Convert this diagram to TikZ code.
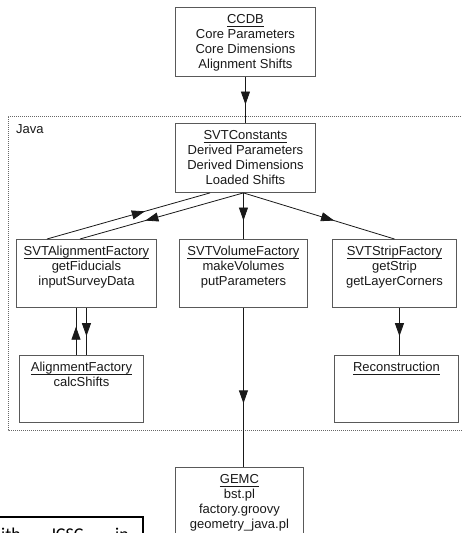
\documentclass[tikz,border=0pt]{standalone}
\usepackage{fontspec}
\setmainfont{Liberation Sans}
\newfontfamily\bleedfont{Carlito}
\usetikzlibrary{arrows.meta,decorations.markings,calc}
\newsavebox{\myulbox}
\newcommand{\myul}[1]{\leavevmode\sbox{\myulbox}{#1}\rlap{\rule[-2.2pt]{\wd\myulbox}{0.6pt}}\usebox{\myulbox}}
\newcommand{\boxtxt}[3]{\parbox[c][#2pt][t]{#1pt}{\centering\fontsize{13}{15}\selectfont\rule{0pt}{16.5pt}#3}}
\begin{document}
\begin{tikzpicture}[x=1pt,y=-1pt,
  bx/.style={draw=black!65, line width=0.9pt, inner sep=0pt, anchor=north west, fill=white, text=black!90},
  conn/.style={draw=black!90, line width=0.8pt},
  midarrow/.style={conn, postaction={decorate}, decoration={markings, mark=at position 0.6 with {\arrow{Triangle[length=13pt,width=9pt]}}}},
  javaline/.style={draw=black!60, line width=0.7pt, dash pattern=on 1pt off 1pt}
]
\useasboundingbox (0,0) rectangle (462,533);
\clip (0,0) rectangle (462,533);
\fill[white] (0,0) rectangle (462,533);

% Java group
\draw[javaline] (475,116) -- (8,116) -- (8,430) -- (475,430);
\node[anchor=west, inner sep=0pt, text=black!90, font=\fontsize{13}{15}\selectfont] (java) at (16,129) {Java};

% boxes
\node[bx] (ccdb) at (175,7) {\boxtxt{140}{69}{\myul{CCDB}\\Core Parameters\\Core Dimensions\\Alignment Shifts}};
\node[bx] (svtc) at (175,123) {\boxtxt{140}{69}{\myul{SVTConstants}\\Derived Parameters\\Derived Dimensions\\Loaded Shifts}};
\node[bx] (saf) at (16,239) {\boxtxt{140}{68}{\myul{SVTAlignmentFactory}\\getFiducials\\inputSurveyData}};
\node[bx] (svf) at (179,239) {\boxtxt{128}{68}{\myul{SVTVolumeFactory}\\makeVolumes\\putParameters}};
\node[bx] (ssf) at (332,239) {\boxtxt{124}{68}{\myul{SVTStripFactory}\\getStrip\\getLayerCorners}};
\node[bx] (af) at (19,355) {\boxtxt{124}{67}{\myul{AlignmentFactory}\\calcShifts}};
\node[bx] (rec) at (334,355) {\boxtxt{124}{67}{\myul{Reconstruction}}};
\node[bx] (gemc) at (175,467) {\boxtxt{128}{90}{\myul{GEMC}\\bst.pl\\factory.groovy\\geometry\_java.pl}};

% connector end points
\coordinate (afup) at ($(af.north west)+(57,0)$);
\coordinate (sfdown) at ($(ssf.south)+(5,0)$);
\coordinate (ca) at ($(svtc.south west)+(35,0)$);
\coordinate (cb) at ($(svtc.south)+(-2,0)$);
\coordinate (sa) at ($(saf.north west)+(31,0)$);
\coordinate (sb) at ($(saf.north west)+(64,0)$);

% connectors
\draw[midarrow] (ccdb.south) -- (ccdb.south |- svtc.north);
\draw[midarrow] (sa) -- (ca);
\draw[midarrow] (cb) -- (sb);
\draw[midarrow] (svf.north |- svtc.south) -- (svf.north);
\draw[midarrow] (cb) -- (ssf.north);
\draw[midarrow] (afup) -- (afup |- saf.south);
\draw[midarrow] (saf.south) -- (saf.south |- af.north);
\draw[midarrow] (sfdown) -- (sfdown |- rec.north);
\draw[midarrow] (svf.south) -- (svf.south |- gemc.north);

% bleed-in fragment from neighbouring page
\draw[black, line width=1.3pt] (-5,517) -- (143,517) -- (143,545);
\node[anchor=base west, inner sep=0pt, font=\bleedfont\fontsize{18}{20}\selectfont] (bl1) at (1,540.5) {ith};
\node[anchor=base west, inner sep=0pt, font=\bleedfont\fontsize{18}{20}\selectfont] (bl2) at (50,540.5) {JCSC};
\node[anchor=base west, inner sep=0pt, font=\bleedfont\fontsize{18}{20}\selectfont] (bl3) at (115,540.5) {in};
\end{tikzpicture}
\end{document}
